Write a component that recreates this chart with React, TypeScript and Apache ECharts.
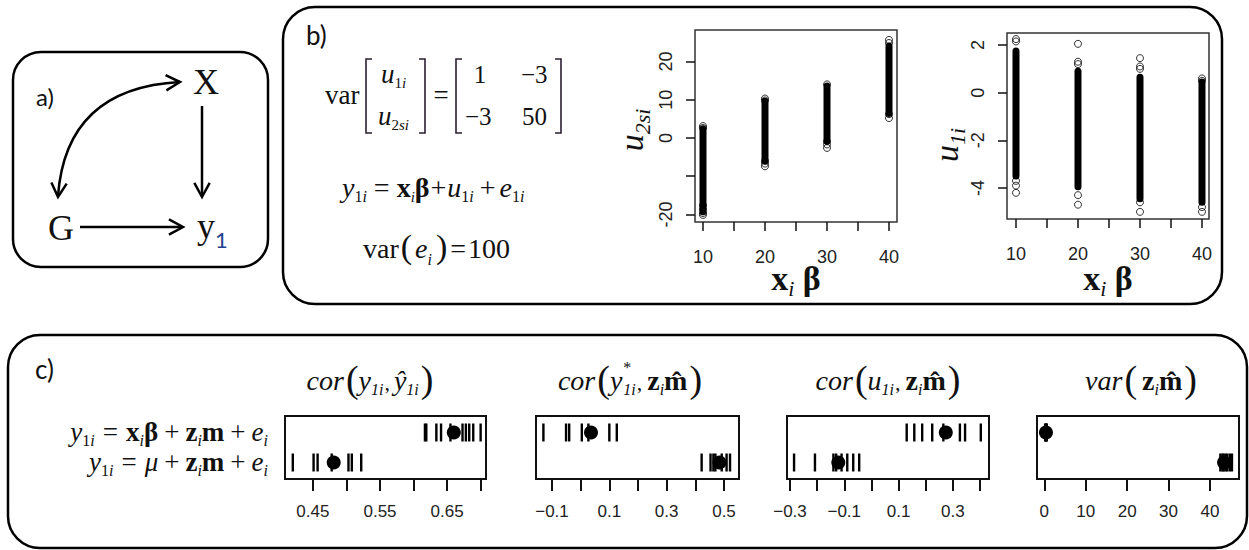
import React, { useEffect, useRef } from "react";
import * as echarts from "echarts";

// ---------- DATA ----------
// Panel b, left scatter: u2si vs xiβ. Dense column ranges [xβ, low, high] + isolated points.
const u2Dense = [[10, -19.3, 2.4], [20, -6.0, 9.6], [30, -0.8, 13.6], [40, 6.4, 24.0]];
const u2Points = [[10, 3.1], [10, 2.6], [10, -17.6], [10, -18.6], [10, -19.6], [10, -20.1],
  [20, 10.3], [20, 9.8], [20, -6.0], [20, -6.7], [20, -7.4],
  [30, 14.0], [30, -0.9], [30, -1.7], [30, -2.6],
  [40, 25.6], [40, 24.8], [40, 6.2], [40, 5.2]];
// Panel b, right scatter: u1i vs xiβ
const u1Dense = [[10, -3.5, 1.75], [20, -3.95, 0.9], [30, -4.45, 0.65], [40, -4.6, 0.45]];
const u1Points = [[10, 2.25], [10, 2.15], [10, -3.7], [10, -3.9], [10, -4.2],
  [20, 2.05], [20, 1.3], [20, 1.2], [20, -4.3], [20, -4.7],
  [30, 1.45], [30, 1.1], [30, 1.0], [30, -4.6], [30, -5.0],
  [40, 0.6], [40, 0.5], [40, -4.8], [40, -5.0]];
const xbTicks = [10, 15, 20, 25, 30, 35, 40];
const xbLabels = [10, 20, 30, 40];

// Panel c strip charts: row "xβ" (top) and row "μ" (bottom), replicate values and means
const s1Xb = [0.617, 0.619, 0.634, 0.641, 0.655, 0.673, 0.678, 0.683, 0.689, 0.700];
const s1Mu = [0.420, 0.451, 0.457, 0.478, 0.503, 0.508, 0.522];
const s1Mean = [0.660, 0.481];
const s2Xb = [-0.130, -0.051, -0.040, 0.004, 0.027, 0.100, 0.126];
const s2Mu = [0.422, 0.453, 0.463, 0.470, 0.492, 0.509, 0.521];
const s2Mean = [0.036, 0.484];
const s3Xb = [0.130, 0.158, 0.187, 0.224, 0.265, 0.326, 0.345, 0.403];
const s3Mu = [-0.285, -0.208, -0.140, -0.130, -0.110, -0.089, -0.067, -0.045];
const s3Mean = [0.274, -0.122];
const s4Xb = [0.2, 0.35, 0.5, 0.6];
const s4Mu = [42.5, 43.0, 43.3, 43.8, 44.2, 44.8, 45.3];
const s4Mean = [0.4, 43.4];

const s1Ticks = [0.45, 0.5, 0.55, 0.6, 0.65, 0.7];
const s1Labels = [0.45, 0.55, 0.65];
const s2Ticks = [-0.1, 0, 0.1, 0.2, 0.3, 0.4, 0.5];
const s2Labels = [-0.1, 0.1, 0.3, 0.5];
const s3Ticks = [-0.3, -0.2, -0.1, 0, 0.1, 0.2, 0.3, 0.4];
const s3Labels = [-0.3, -0.1, 0.1, 0.3];
const s4Ticks = [0, 10, 20, 30, 40];
const s4Labels = [0, 10, 20, 30, 40];

// ---------- helpers ----------
const SERIF = "Liberation Serif";
const SANS = "Liberation Sans";
const LABELF = "Lato";
const INK = "#111";

type P = { t: string; s: number; it?: boolean; b?: boolean; dy?: number; f?: string; gap?: number; c?: string; noAdv?: boolean };

let ctx: CanvasRenderingContext2D | null = null;
function fontStr(p: P) {
  return `${p.it ? "italic " : ""}${p.b ? "bold " : ""}${p.s}px "${p.f ?? SERIF}"`;
}
function measure(p: P) {
  if (!ctx) ctx = document.createElement("canvas").getContext("2d");
  ctx!.font = fontStr(p);
  return ctx!.measureText(p.t).width;
}
function formula(x: number, base: number, pieces: P[], align: "left" | "right" | "center" = "left") {
  const widths = pieces.map((p) => (p.noAdv ? 0 : measure(p)) + (p.gap ?? 0));
  const total = widths.reduce((a, b) => a + b, 0);
  let cx = align === "left" ? x : align === "right" ? x - total : x - total / 2;
  const els: any[] = [];
  pieces.forEach((p, i) => {
    cx += p.gap ?? 0;
    els.push({
      type: "text",
      x: cx,
      y: base + (p.dy ?? 0) - 0.34 * p.s,
      silent: true,
      style: {
        text: p.t, fontFamily: p.f ?? SERIF, fontSize: p.s, fontStyle: p.it ? "italic" : "normal",
        fontWeight: p.b ? "bold" : "normal", fill: p.c ?? INK, align: "left", verticalAlign: "middle",
      },
    });
    cx += widths[i] - (p.gap ?? 0);
  });
  return els;
}
function chevron(tx: number, ty: number, dx: number, dy: number, len = 16, ang = 0.5) {
  const L = Math.hypot(dx, dy);
  const bx = -dx / L, by = -dy / L;
  const rot = (a: number) => [bx * Math.cos(a) - by * Math.sin(a), bx * Math.sin(a) + by * Math.cos(a)];
  const [ax, ay] = rot(ang);
  const [cx, cy] = rot(-ang);
  return {
    type: "polyline",
    silent: true,
    shape: { points: [[tx + ax * len, ty + ay * len], [tx, ty], [tx + cx * len, ty + cy * len]] },
    style: { stroke: "#000", lineWidth: 2.5, fill: null },
  };
}
function seg(x1: number, y1: number, x2: number, y2: number, w = 2.5, c = "#000") {
  return { type: "line", silent: true, shape: { x1, y1, x2, y2 }, style: { stroke: c, lineWidth: w } };
}
function bracket(x: number, top: number, bot: number, dir: 1 | -1) {
  return {
    type: "polyline", silent: true,
    shape: { points: [[x + 6 * dir, top], [x, top], [x, bot], [x + 6 * dir, bot]] },
    style: { stroke: "#2a2030", lineWidth: 1.6, fill: null },
  };
}
const sub = (t: string, s = 15, dy = 6, it = true): P => ({ t, s, it, dy });

function stripFmt(v: number) {
  return String(Math.round(v * 100) / 100).replace("-", "\u2212");
}

export default function App() {
  const ref = useRef<HTMLDivElement>(null);
  useEffect(() => {
    document.body.style.margin = "0";
    const chart = echarts.init(ref.current!, null, { renderer: "svg" });

    const sGrid = (left: number, width: number) => ({
      left, top: 416, width, height: 63, show: true, borderColor: "#111", borderWidth: 2, backgroundColor: "transparent",
    });
    const grids = [
      { left: 695, top: 30, width: 202, height: 192, show: true, borderColor: "#333", borderWidth: 1.5, backgroundColor: "transparent" },
      { left: 1007, top: 33, width: 202, height: 186, show: true, borderColor: "#333", borderWidth: 1.5, backgroundColor: "transparent" },
      sGrid(285, 201),
      sGrid(536, 203),
      sGrid(787, 202),
      sGrid(1037, 202),
    ];
    const tickStyle = { color: "#111", width: 1.5 };
    const noLine = { show: false, onZero: false };
    const xScatter = (gi: number, min: number, max: number) => ({
      type: "value", gridIndex: gi, min, max, splitLine: { show: false }, axisLine: noLine,
      axisTick: { show: true, length: 9, lineStyle: tickStyle, customValues: xbTicks },
      axisLabel: { customValues: xbLabels, margin: 26, fontSize: 18, fontFamily: SANS, color: "#222" },
    });
    const yScatter = (gi: number, min: number, max: number, ticks: number[], labels: number[]) => ({
      type: "value", gridIndex: gi, min, max, splitLine: { show: false }, axisLine: noLine,
      axisTick: { show: true, length: 9, lineStyle: tickStyle, customValues: ticks },
      axisLabel: { customValues: labels, rotate: 90, margin: 20, fontSize: 18, fontFamily: SANS, color: "#222" },
    });
    const xStrip = (gi: number, min: number, max: number, ticks: number[], labels: number[]) => ({
      type: "value", gridIndex: gi, min, max, splitLine: { show: false }, axisLine: noLine,
      axisTick: { show: true, length: 12, lineStyle: { color: "#111", width: 2 }, customValues: ticks },
      axisLabel: { customValues: labels, margin: 24, fontSize: 17, fontFamily: SANS, color: "#222", formatter: stripFmt },
    });
    const yStrip = (gi: number) => ({ type: "value", gridIndex: gi, min: 0.45, max: 2.55, show: false, axisLine: noLine });

    const denseSeries = (axis: number, data: number[][]) => ({
      type: "custom", xAxisIndex: axis, yAxisIndex: axis, data, silent: true,
      renderItem: (_p: any, api: any) => {
        const top = api.coord([api.value(0), api.value(2)]);
        const bot = api.coord([api.value(0), api.value(1)]);
        return {
          type: "rect",
          shape: { x: top[0] - 3.5, y: top[1] - 3.5, width: 7, height: bot[1] - top[1] + 7, r: 3.5 },
          style: { fill: "#000" },
        };
      },
    });
    const openPts = (axis: number, data: number[][]) => ({
      type: "scatter", xAxisIndex: axis, yAxisIndex: axis, data, symbol: "circle", symbolSize: 7, silent: true,
      itemStyle: { color: "rgba(255,255,255,0)", borderColor: "#000", borderWidth: 1 },
    });
    const stripSeries = (axis: number, xb: number[], mu: number[], means: number[]) => [
      {
        type: "scatter", xAxisIndex: axis, yAxisIndex: axis, silent: true,
        data: [...xb.map((v) => [v, 2]), ...mu.map((v) => [v, 1])],
        symbol: "rect", symbolSize: [2.4, 18], itemStyle: { color: "#000", opacity: 1 },
      },
      {
        type: "scatter", xAxisIndex: axis, yAxisIndex: axis, silent: true,
        data: [[means[0], 2], [means[1], 1]],
        symbol: "circle", symbolSize: 14, itemStyle: { color: "#000", opacity: 1 }, z: 3,
      },
    ];

    // ---------- graphic (panels, diagrams, formulas) ----------
    const g: any[] = [];
    g.push({ type: "rect", silent: true, shape: { x: 13, y: 52, width: 255, height: 215, r: 28 }, style: { fill: null, stroke: "#000", lineWidth: 2.5 } });
    g.push({ type: "rect", silent: true, shape: { x: 283, y: 7, width: 939, height: 297, r: 32 }, style: { fill: null, stroke: "#000", lineWidth: 2.5 } });
    g.push({ type: "rect", silent: true, shape: { x: 8, y: 335, width: 1239, height: 213, r: 32 }, style: { fill: null, stroke: "#000", lineWidth: 2.5 } });

    // panel a
    g.push(...formula(36, 105, [{ t: "a)", s: 24, f: LABELF }]));
    g.push(...formula(206, 94, [{ t: "X", s: 36 }], "center"));
    g.push(...formula(61, 240, [{ t: "G", s: 36 }], "center"));
    g.push(...formula(197, 238, [{ t: "y", s: 36 }, { t: "1", s: 22, dy: 9, f: LABELF, c: "#23408f" }]));
    g.push(seg(202, 106, 202, 196));
    g.push(chevron(202, 197, 0, 1));
    g.push(seg(80, 227, 182, 227));
    g.push(chevron(183, 227, 1, 0));
    g.push({ type: "bezierCurve", silent: true, shape: { x1: 58, y1: 196, x2: 180, y2: 82, cpx1: 66, cpy1: 88 }, style: { stroke: "#000", lineWidth: 2.5, fill: null } });
    g.push(chevron(58, 197, 58 - 66, 196 - 88));
    g.push(chevron(180, 82, 180 - 66, 82 - 88));

    // panel b label + equations
    g.push(...formula(306, 44, [{ t: "b)", s: 26, f: LABELF }]));
    g.push(...formula(325, 104, [{ t: "var", s: 27 }]));
    g.push(bracket(366, 59, 133, 1), bracket(425, 59, 133, -1));
    g.push(...formula(381, 83, [{ t: "u", s: 27, it: true }, sub("1", 15, 5, false), sub("i", 15, 5)]));
    g.push(...formula(378, 125, [{ t: "u", s: 27, it: true }, sub("2", 15, 5, false), sub("si", 15, 5)]));
    g.push(...formula(441, 104, [{ t: "=", s: 27 }], "center"));
    g.push(bracket(456, 59, 133, 1), bracket(561, 59, 133, -1));
    g.push(...formula(480, 83, [{ t: "1", s: 25 }], "center"));
    g.push(...formula(521, 83, [{ t: "\u22123", s: 25 }]));
    g.push(...formula(465, 125, [{ t: "\u22123", s: 25 }]));
    g.push(...formula(522, 125, [{ t: "50", s: 25 }]));
    g.push(...formula(342, 197, [
      { t: "y", s: 28, it: true }, sub("1", 16, 5, false), sub("i", 16, 5),
      { t: "=", s: 28, gap: 7 },
      { t: "x", s: 28, b: true, gap: 7 }, sub("i", 15, 5), { t: "\u03b2", s: 28, b: true },
      { t: "+", s: 28, gap: 1 },
      { t: "u", s: 28, it: true, gap: 1 }, sub("1", 16, 5, false), sub("i", 16, 5),
      { t: "+", s: 28, gap: 6 },
      { t: "e", s: 28, it: true, gap: 4 }, sub("1", 16, 5, false), sub("i", 16, 5),
    ]));
    g.push(...formula(363, 258, [
      { t: "var", s: 28 }, { t: "(", s: 34, gap: 2 }, { t: "e", s: 28, it: true, gap: 3 }, sub("i", 16, 7),
      { t: ")", s: 34, gap: 4 }, { t: "=", s: 28, gap: 3 }, { t: "100", s: 28, gap: 2 },
    ]));

    // panel b axis titles
    g.push(...formula(796, 290, [{ t: "x", s: 34, b: true }, sub("i", 22, 6), { t: " \u03b2", s: 34, b: true }], "center"));
    g.push(...formula(1108, 290, [{ t: "x", s: 34, b: true }, sub("i", 22, 6), { t: " \u03b2", s: 34, b: true }], "center"));
    const yTitle = (cx: number, cy: number, subTxt: string) => {
      const kids = formula(0, 0, [{ t: "u", s: 34, it: true }, { t: subTxt, s: 22, it: true, dy: 7 }], "center");
      return { type: "group", x: cx, y: cy, rotation: Math.PI / 2, children: kids, silent: true };
    };
    g.push(yTitle(643, 130, "2si"));
    g.push(yTitle(958, 145, "1i"));

    // panel c
    g.push(...formula(35, 378, [{ t: "c)", s: 26, f: LABELF }]));
    const ES = 27, SS = 16;
    const eqRow = (base: number, mid: P[]) =>
      formula(268, base, [
        { t: "y", s: ES, it: true }, sub("1", SS, 5, false), sub("i", SS, 5),
        { t: "=", s: ES, gap: 8 },
        ...mid,
        { t: "+", s: ES, gap: 6 },
        { t: "z", s: ES, b: true, gap: 6 }, sub("i", SS, 5), { t: "m", s: ES, b: true },
        { t: "+", s: ES, gap: 6 },
        { t: "e", s: ES, it: true, gap: 6 }, sub("i", SS, 5),
      ], "right");
    g.push(...eqRow(441, [{ t: "x", s: ES, b: true, gap: 8 }, sub("i", SS, 5), { t: "\u03b2", s: ES, b: true }]));
    g.push(...eqRow(471, [{ t: "\u03bc", s: ES, it: true, gap: 8 }]));

    const TB = 390;
    const TS = 28, TSub = 16;
    const P_L = { t: "(", s: 38, gap: 2, dy: 2 } as P;
    const P_R = { t: ")", s: 38, gap: 2, dy: 2 } as P;
    const zm: P[] = [{ t: "z", s: TS, b: true, gap: 5 }, sub("i", TSub, 5), { t: "m\u0302", s: TS, b: true }];
    g.push(...formula(370, TB, [{ t: "cor", s: TS, it: true }, P_L, { t: "y", s: TS, it: true }, sub("1i", TSub, 5),
      { t: ",", s: 22, gap: 1 }, { t: "\u0177", s: TS, it: true, gap: 4 }, sub("1i", TSub, 5), P_R], "center"));
    g.push(...formula(630, TB, [{ t: "cor", s: TS, it: true }, P_L, { t: "y", s: TS, it: true },
      { t: "*", s: 16, dy: -17, gap: 1, noAdv: true }, sub("1i", TSub, 5), { t: ",", s: 22, gap: 1 }, ...zm, P_R], "center"));
    g.push(...formula(888, TB, [{ t: "cor", s: TS, it: true }, P_L, { t: "u", s: TS, it: true }, sub("1i", TSub, 5),
      { t: ",", s: 22, gap: 1 }, ...zm, P_R], "center"));
    g.push(...formula(1141, TB, [{ t: "var", s: TS, it: true }, P_L, ...zm, P_R], "center"));

    chart.setOption({
      animation: false,
      backgroundColor: "#fff",
      grid: grids,
      xAxis: [
        xScatter(0, 8.71, 41.29),
        xScatter(1, 8.55, 41.13),
        xStrip(2, 0.4084, 0.708, s1Ticks, s1Labels),
        xStrip(3, -0.1558, 0.5523, s2Ticks, s2Labels),
        xStrip(4, -0.311, 0.4332, s3Ticks, s3Labels),
        xStrip(5, -1.762, 47.0, s4Ticks, s4Labels),
      ],
      yAxis: [
        yScatter(0, -21.96, 28.2, [-20, -10, 0, 10, 20], [-20, 0, 10, 20]),
        yScatter(1, -5.3, 2.505, [-4, -2, 0, 2], [-4, -2, 0, 2]),
        yStrip(2), yStrip(3), yStrip(4), yStrip(5),
      ],
      series: [
        denseSeries(0, u2Dense), openPts(0, u2Points),
        denseSeries(1, u1Dense), openPts(1, u1Points),
        ...stripSeries(2, s1Xb, s1Mu, s1Mean),
        ...stripSeries(3, s2Xb, s2Mu, s2Mean),
        ...stripSeries(4, s3Xb, s3Mu, s3Mean),
        ...stripSeries(5, s4Xb, s4Mu, s4Mean),
      ],
      graphic: { elements: g },
    });
    return () => chart.dispose();
  }, []);
  return <div ref={ref} style={{ width: 1249, height: 550 }} />;
}
